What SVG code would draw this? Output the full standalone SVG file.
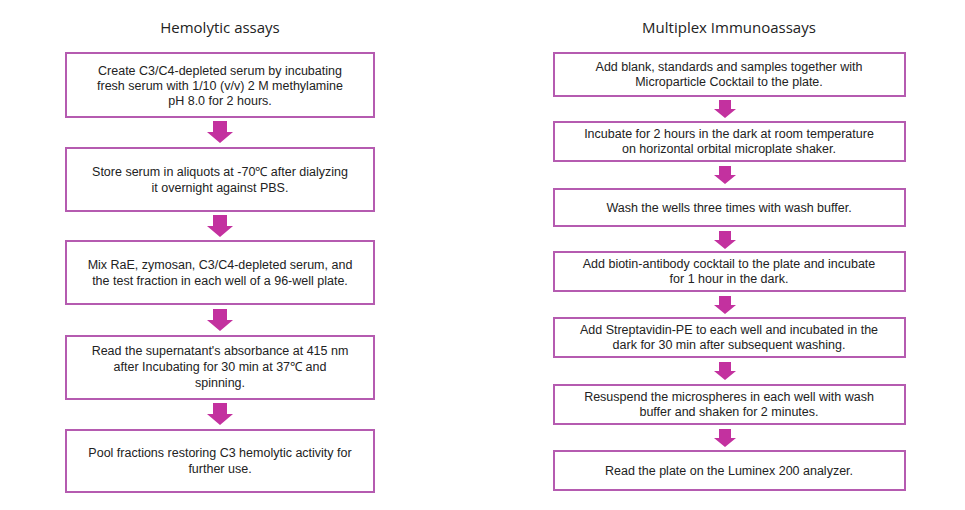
<svg xmlns="http://www.w3.org/2000/svg" width="965" height="510" viewBox="0 0 965 510">
<style>
.b{fill:#fff;stroke:#b55bb0;stroke-width:2}
.t{font-family:"Liberation Sans",Arial,sans-serif;font-size:12.5px;fill:#222;text-anchor:middle}
.h{font-family:"Open Sans","Liberation Sans",sans-serif;font-size:15px;fill:#222;text-anchor:middle}
.a{fill:#c3319f}
</style>
<defs>
<path id="arL" d="M-7,0H7V11H13L0,22L-13,11H-7Z"/>
<path id="arR" d="M-6,0H6V9H11L0,18L-11,9H-6Z"/>
</defs>
<rect width="965" height="510" fill="#fff"/>
<text class="h" x="220" y="33">Hemolytic assays</text>
<text class="h" x="729" y="33">Multiplex Immunoassays</text>
<g id="connectors">
<use href="#arL" class="a" x="220" y="121"/>
<use href="#arL" class="a" x="220" y="215"/>
<use href="#arL" class="a" x="220" y="309"/>
<use href="#arL" class="a" x="220" y="403"/>
<use href="#arR" class="a" x="725" y="100"/>
<use href="#arR" class="a" x="725" y="166"/>
<use href="#arR" class="a" x="725" y="231"/>
<use href="#arR" class="a" x="725" y="296"/>
<use href="#arR" class="a" x="725" y="362"/>
<use href="#arR" class="a" x="725" y="429"/>
</g>
<g id="L1"><rect class="b" x="66" y="53" width="308" height="64"/>
<text class="t" x="220" y="75">Create C3/C4-depleted serum by incubating</text>
<text class="t" x="220" y="90">fresh serum with 1/10 (v/v) 2 M methylamine</text>
<text class="t" x="220" y="105">pH 8.0 for 2 hours.</text></g>
<g id="L2"><rect class="b" x="66" y="148" width="308" height="63"/>
<text class="t" x="220" y="176">Store serum in aliquots at -70℃ after dialyzing</text>
<text class="t" x="220" y="192">it overnight against PBS.</text></g>
<g id="L3"><rect class="b" x="66" y="241" width="308" height="63"/>
<text class="t" x="220" y="269">Mix RaE, zymosan, C3/C4-depleted serum, and</text>
<text class="t" x="220" y="285">the test fraction in each well of a 96-well plate.</text></g>
<g id="L4"><rect class="b" x="66" y="336" width="308" height="63"/>
<text class="t" x="220" y="355">Read the supernatant's absorbance at 415 nm</text>
<text class="t" x="220" y="371">after Incubating for 30 min at 37℃ and</text>
<text class="t" x="220" y="387">spinning.</text></g>
<g id="L5"><rect class="b" x="66" y="430" width="308" height="62"/>
<text class="t" x="220" y="457">Pool fractions restoring C3 hemolytic activity for</text>
<text class="t" x="220" y="473">further use.</text></g>
<g id="R1"><rect class="b" x="554" y="53" width="351" height="43"/>
<text class="t" x="729" y="71">Add blank, standards and samples together with</text>
<text class="t" x="729" y="86">Microparticle Cocktail to the plate.</text></g>
<g id="R2"><rect class="b" x="554" y="122" width="351" height="39"/>
<text class="t" x="729" y="138">Incubate for 2 hours in the dark at room temperature</text>
<text class="t" x="729" y="153">on horizontal orbital microplate shaker.</text></g>
<g id="R3"><rect class="b" x="554" y="189" width="351" height="37"/>
<text class="t" x="729" y="212">Wash the wells three times with wash buffer.</text></g>
<g id="R4"><rect class="b" x="554" y="252" width="351" height="39"/>
<text class="t" x="729" y="268">Add biotin-antibody cocktail to the plate and incubate</text>
<text class="t" x="729" y="283">for 1 hour in the dark.</text></g>
<g id="R5"><rect class="b" x="554" y="318" width="351" height="39"/>
<text class="t" x="729" y="334">Add Streptavidin-PE to each well and incubated in the</text>
<text class="t" x="729" y="349">dark for 30 min after subsequent washing.</text></g>
<g id="R6"><rect class="b" x="554" y="385" width="351" height="39"/>
<text class="t" x="729" y="401">Resuspend the microspheres in each well with wash</text>
<text class="t" x="729" y="416">buffer and shaken for 2 minutes.</text></g>
<g id="R7"><rect class="b" x="554" y="451" width="351" height="39"/>
<text class="t" x="729" y="475">Read the plate on the Luminex 200 analyzer.</text></g>
</svg>
